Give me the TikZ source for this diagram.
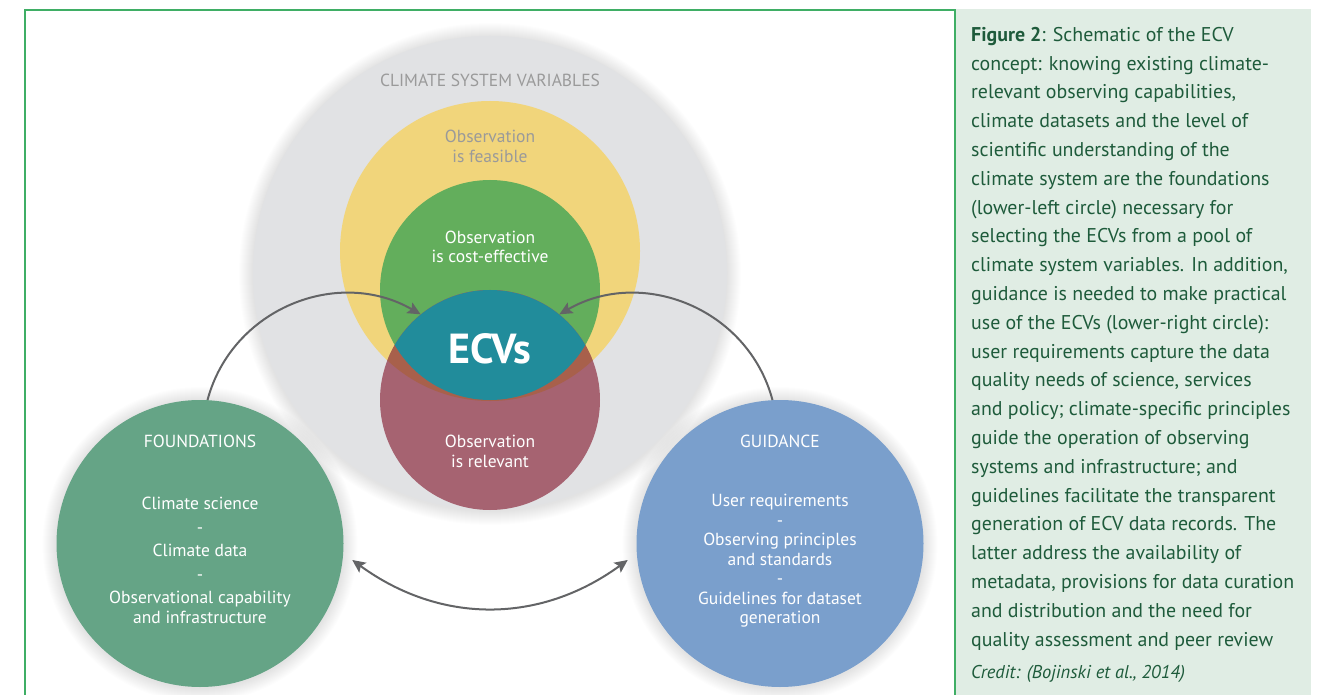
\documentclass[tikz,border=0pt]{standalone}
\usepackage{fontspec}
\setmainfont{PT Sans}
\usetikzlibrary{arrows.meta}

\definecolor{poolgrey}{HTML}{E1E2E4}
\definecolor{feasyellow}{HTML}{F1D57B}
\definecolor{costgreen}{HTML}{63AE5C}
\definecolor{relred}{HTML}{A66371}
\definecolor{ecvteal}{HTML}{218C9B}
\definecolor{overlapbrown}{HTML}{A8604B}
\definecolor{foundgreen}{HTML}{65A486}
\definecolor{guideblue}{HTML}{7A9FCC}
\definecolor{arrowgrey}{HTML}{636466}
\definecolor{labelgrey}{HTML}{9A9A9A}
\definecolor{framegreen}{HTML}{3FAE65}
\definecolor{panelbg}{HTML}{E0EDE4}
\definecolor{captext}{HTML}{1E5B3B}

\tikzset{headtip/.tip={Stealth[length=13pt, width=12pt, inset=2.5pt]}}

\begin{document}
\begin{tikzpicture}[x=1pt,y=1pt,
  disc/.style={circle, inner sep=0pt, draw=none},
  lbl/.style={font=\fontsize{17.5}{20}\selectfont, align=center, text=white, inner sep=0pt},
  greylbl/.style={lbl, text=labelgrey},
  arr/.style={draw=arrowgrey, line width=2pt},
  captionbox/.style={font=\fontsize{19.9}{28.8}\selectfont, align=left, text=captext, inner sep=0pt}
]
\useasboundingbox (0,0) rectangle (1326,-695);
\fill[white] (0,0) rectangle (1326,-695);

% caption panel and frame
\fill[panelbg] (955,-9) rectangle (1311,-695);
\draw[framegreen, line width=2pt] (25,-695) -- (25,-10) -- (955,-10) -- (955,-695);

% soft halos under the large discs
\foreach \cx/\cy/\r in {490/-273/237, 200/-543.5/143.5, 780/-543.5/143.5}
  \foreach \k in {1,...,14}
    \fill[black, opacity=0.008] (\cx,\cy-1) circle (\r+\k);

% pool of climate system variables and the three criteria
\node[disc, fill=poolgrey, minimum size=474pt] (pool) at (490,-273) {};
\node[disc, fill=feasyellow, minimum size=300pt] (feas) at (490,-251) {};
\node[disc, fill=costgreen, minimum size=220pt] (cost) at (490,-290) {};
\node[disc, fill=relred, minimum size=220pt] (rel) at (490,-400) {};
\begin{scope}
  \clip (rel.center) circle (110);
  \fill[overlapbrown] (feas.center) circle (150);
  \fill[ecvteal] (cost.center) circle (110);
\end{scope}

% foundations and guidance
\node[disc, fill=foundgreen, minimum size=287pt] (found) at (200,-543.5) {};
\node[disc, fill=guideblue, minimum size=287pt] (guid) at (780,-543.5) {};

% labels (anchor=base sits on the last line)
\node[greylbl, anchor=base] (poollbl) at (490,-87) {CLIMATE SYSTEM VARIABLES};
\node[greylbl, anchor=base] (feaslbl) at (490,-163) {Observation\\is feasible};
\node[lbl, anchor=base] (costlbl) at (490,-263) {Observation\\is cost-effective};
\node[lbl, anchor=base, font=\bfseries\fontsize{42}{42}\selectfont] (ecv) at (490,-363) {ECVs};
\node[lbl, anchor=base] (rellbl) at (490,-467) {Observation\\is relevant};

\node[lbl, anchor=base] (foundtitle) at (200,-447) {FOUNDATIONS};
\node[lbl, anchor=base] (foundlist) at (200,-623.5) {Climate science\\[3.5pt]-\\[3.5pt]Climate data\\[3.5pt]-\\[3.5pt]Observational capability\\and infrastructure};
\node[lbl, anchor=base] (guidtitle) at (780,-447) {GUIDANCE};
\node[lbl, anchor=base, font=\fontsize{17.5}{19.5}\selectfont] (guidlist) at (780,-623.5) {User requirements\\-\\Observing principles\\and standards\\-\\Guidelines for dataset\\generation};

% connectors
\draw[arr, -{headtip}] (found.87) to[out=75, in=150, looseness=1.06] (rel.129);
\draw[arr, -{headtip}] (guid.93) to[out=105, in=30, looseness=1.06] (rel.51);
\draw[arr, {headtip}-{headtip}, shorten <=11pt, shorten >=11pt]
  (found.-4) to[out=-36, in=-144, looseness=1.05] (guid.184);

% caption
\node[captionbox, anchor=base west] (caption) at (971,-646) {\textbf{Figure 2}: Schematic of the ECV\\
concept: knowing existing climate-\\
relevant observing capabilities,\\
climate datasets and the level of\\
scientific understanding of the\\
climate system are the foundations\\
(lower-left circle) necessary for\\
selecting the ECVs from a pool of\\
climate system variables. In addition,\\
guidance is needed to make practical\\
use of the ECVs (lower-right circle):\\
user requirements capture the data\\
quality needs of science, services\\
and policy; climate-specific principles\\
guide the operation of observing\\
systems and infrastructure; and\\
guidelines facilitate the transparent\\
generation of ECV data records. The\\
latter address the availability of\\
metadata, provisions for data curation\\
and distribution and the need for\\
quality assessment and peer review};
\node[captionbox, anchor=base west, font=\itshape\fontsize{18.5}{20}\selectfont] (credit) at (971,-678) {Credit: (Bojinski et al., 2014)};
\end{tikzpicture}
\end{document}
